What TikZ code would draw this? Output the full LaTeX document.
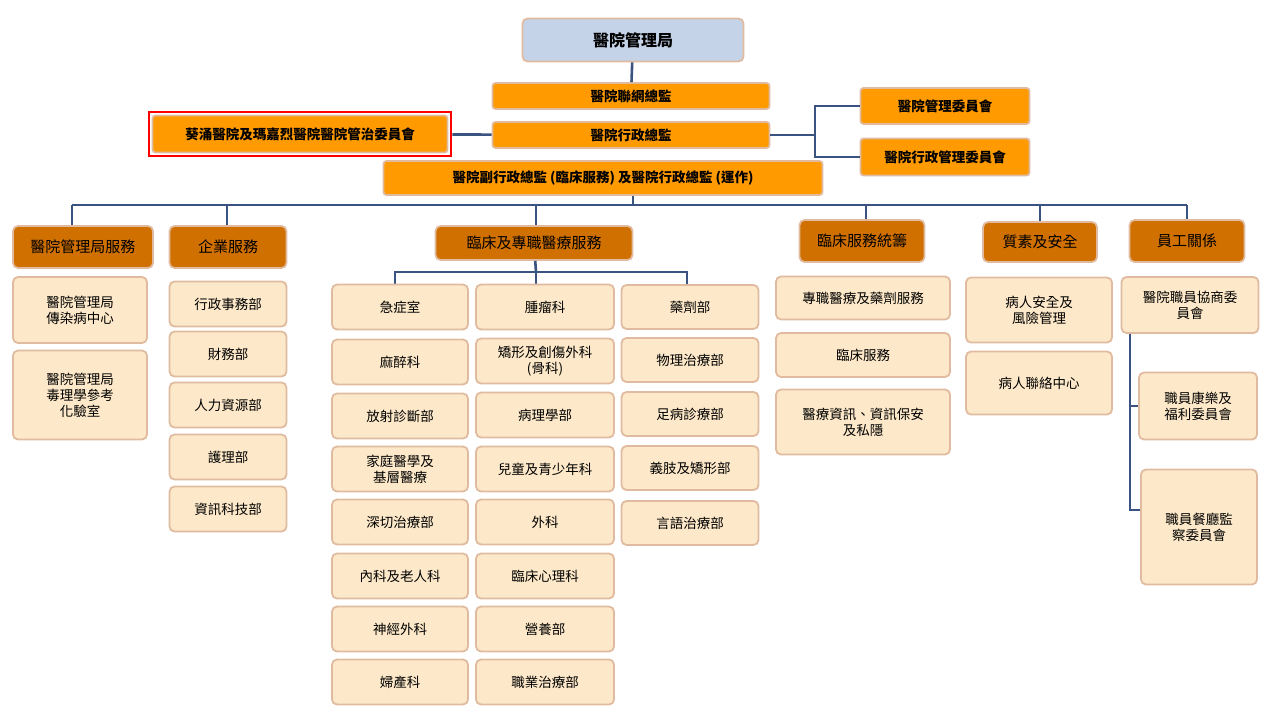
\documentclass[tikz,border=0pt]{standalone}
\usepackage{fontspec}
\setmainfont{Noto Sans CJK TC}
\usetikzlibrary{fit}
\usetikzlibrary{positioning}
\definecolor{topblue}{HTML}{C5D3E8}
\definecolor{mid}{HTML}{FF9A00}
\definecolor{cat}{HTML}{D07000}
\definecolor{leafc}{HTML}{FDE9C9}
\definecolor{edge}{HTML}{E0BBA0}
\definecolor{wire}{HTML}{3A5380}
\begin{document}
\begin{tikzpicture}[x=1pt,y=-1pt,
  box/.style={draw=edge, line width=1.8pt, rounded corners=5pt, align=center, inner sep=0pt, font=\fontsize{13.5}{16}\selectfont},
  head/.style={box, fill=topblue, font=\fontsize{16}{18}\selectfont\bfseries},
  mgr/.style={box, fill=mid, rounded corners=3pt, font=\fontsize{13.5}{16}\selectfont\bfseries},
  cat/.style={box, fill=cat, font=\fontsize{15}{18}\selectfont},
  leaf/.style={box, fill=leafc},
  wire/.style={draw=wire, line width=2.6pt},
  ]
  \useasboundingbox (0,0) rectangle (1280,720);

  % top of the tree
  \node[head, minimum width=221, minimum height=43] (ha) at (633,40) {醫院管理局};
  \node[mgr, minimum width=277, minimum height=26] (cluster) at (631,96) {醫院聯網總監};
  \node[mgr, minimum width=277, minimum height=26] (ce) at (631,135) {醫院行政總監};
  \node[mgr, minimum width=295, minimum height=37] (kw) at (300,134) {葵涌醫院及瑪嘉烈醫院醫院管治委員會};
  \node[draw=red, line width=2pt, fit=(kw), inner sep=3pt] (kwframe) {};
  \node[mgr, minimum width=439, minimum height=34] (dce) at (603,178) {醫院副行政總監 (臨床服務) 及醫院行政總監 (運作)};
  \node[mgr, minimum width=169, minimum height=36] (hmc) at (945,106) {醫院管理委員會};
  \node[mgr, minimum width=169, minimum height=37] (hemc) at (945,157) {醫院行政管理委員會};

  \coordinate (bus) at (633,205);
  \coordinate (rj) at (815,135);
  \draw[wire] (ha) -- (cluster);
  \draw[wire] (kwframe) -- (ce);
  \draw[wire] (dce.south -| bus) -- (bus);
  \draw[wire] (ce) -- (rj);
  \draw[wire] (hmc.west) -| (rj) |- (hemc.west);

  % categories
  \node[cat, minimum width=140, minimum height=42] (c1) at (83,247) {醫院管理局服務};
  \node[cat, minimum width=117, minimum height=42] (c2) at (228,247) {企業服務};
  \node[cat, minimum width=197, minimum height=34] (c3) at (534,243) {臨床及專職醫療服務};
  \node[cat, minimum width=125, minimum height=42] (c4) at (862,241) {臨床服務統籌};
  \node[cat, minimum width=114, minimum height=40] (c5) at (1040,242) {質素及安全};
  \node[cat, minimum width=115, minimum height=42] (c6) at (1187,241) {員工關係};

  \draw[wire] (72,205) -- (1187,205);
  \foreach \c/\x in {c1/72,c2/227,c3/536,c4/866,c5/1040,c6/1187}
    \draw[wire] (\x,205) -- (\x,0 |- \c.north);

  % hospital authority services
  \node[leaf, minimum width=134, minimum height=66] (l11) at (80,310) {醫院管理局\\傳染病中心};
  \node[leaf, minimum width=134, minimum height=89] (l12) at (80,395) {醫院管理局\\毒理學參考\\化驗室};

  % corporate services
  \node[leaf, minimum width=117, minimum height=45] (l21) at (228,304) {行政事務部};
  \node[leaf, minimum width=117, minimum height=45] (l22) at (228,354) {財務部};
  \node[leaf, minimum width=117, minimum height=45] (l23) at (228,405) {人力資源部};
  \node[leaf, minimum width=117, minimum height=45] (l24) at (228,457) {護理部};
  \node[leaf, minimum width=117, minimum height=45] (l25) at (228,509) {資訊科技部};

  % clinical and allied health
  \coordinate (sb) at (536,272);
  \draw[wire] (c3) -- (sb);
  \draw[wire] (395,285) |- (687,272) -- (687,285);
  \draw[wire] (sb) -- (536,285);
  \foreach \n/\y/\t in {a1/307/急症室, a2/362/麻醉科, a3/416/放射診斷部,
      a4/469/{家庭醫學及\\基層醫療}, a5/522/深切治療部, a6/576/內科及老人科,
      a7/629/神經外科, a8/682/婦產科}
    \node[leaf, minimum width=136, minimum height=45] (\n) at (400,\y) {\t};
  \foreach \n/\y/\t in {b1/307/腫瘤科, b2/361/{矯形及創傷外科\\(骨科)}, b3/415/病理學部,
      b4/469/兒童及青少年科, b5/522/外科, b6/576/臨床心理科,
      b7/629/營養部, b8/682/職業治療部}
    \node[leaf, minimum width=138, minimum height=45] (\n) at (545,\y) {\t};
  \foreach \n/\y/\t in {p1/307/藥劑部, p2/360/物理治療部, p3/414/足病診療部,
      p4/468/義肢及矯形部, p5/523/言語治療部}
    \node[leaf, minimum width=137, minimum height=44] (\n) at (690,\y) {\t};

  % clinical services coordination
  \node[leaf, minimum width=174, minimum height=43] (d1) at (863,298) {專職醫療及藥劑服務};
  \node[leaf, minimum width=174, minimum height=44] (d2) at (863,355) {臨床服務};
  \node[leaf, minimum width=174, minimum height=65] (d3) at (863,422) {醫療資訊、資訊保安\\及私隱};

  % quality and safety
  \node[leaf, minimum width=146, minimum height=65] (q1) at (1039,310) {病人安全及\\風險管理};
  \node[leaf, minimum width=146, minimum height=63] (q2) at (1039,383) {病人聯絡中心};

  % staff relations
  \node[leaf, minimum width=137, minimum height=56] (s1) at (1190,305) {醫院職員協商委\\員會};
  \node[leaf, minimum width=118, minimum height=67] (s2) at (1198,406) {職員康樂及\\福利委員會};
  \node[leaf, minimum width=116, minimum height=115] (s3) at (1199,527) {職員餐廳監\\察委員會};
  \coordinate (sj) at (1130,510);
  \draw[wire] (1130,0 |- s1.south) -- (sj) -- (sj -| s3.west);
  \draw[wire] (1130,0 |- s2.west) -- (s2.west);
\end{tikzpicture}
\end{document}
